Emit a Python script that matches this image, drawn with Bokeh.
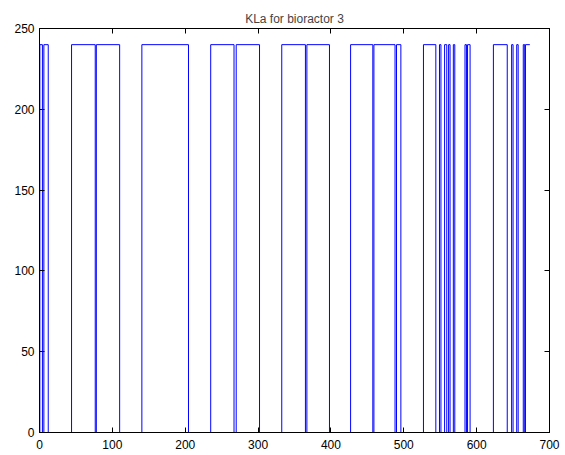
from bokeh.plotting import figure
from bokeh.models import Range1d, LinearAxis, FixedTicker
from bokeh.embed import file_html
from bokeh.resources import INLINE

# Step signal: time at which each level starts, and the level
times = [0, 0.5, 4, 6, 12, 44, 76.5, 78, 110, 140.5, 204.5, 235, 267, 270, 302,
         332.5, 365, 367, 398, 427, 457.5, 459, 488, 490, 496, 527, 544, 549, 551,
         556, 559, 561.5, 563.5, 568, 570, 584, 586, 587.5, 591, 623, 642, 648, 650,
         655, 657, 664, 666, 667, 673]
levels = [0, 240, 0, 240, 0, 240, 0, 240, 0, 240, 0, 240, 0, 240, 0,
          240, 0, 240, 0, 240, 0, 240, 0, 240, 0, 240, 0, 240, 0,
          240, 0, 240, 0, 240, 0, 240, 0, 240, 0, 240, 0, 240, 0,
          240, 0, 240, 0, 240, 240]
x_ticks = [0, 100, 200, 300, 400, 500, 600, 700]
y_ticks = [0, 50, 100, 150, 200, 250]
title_text = "KLa for bioractor 3"

FONT = "Liberation Sans"

p = figure(width=565, height=455, output_backend="svg", toolbar_location=None,
           x_range=Range1d(0, 700), y_range=Range1d(0, 250),
           title=title_text, min_border_left=39, min_border_right=16,
           min_border_top=28, min_border_bottom=23)
p.title.align = "center"
p.title.text_font = FONT
p.title.text_font_size = "12px"
p.title.text_font_style = "normal"
p.title.standoff = 6
p.title.offset = 0

p.grid.visible = False
p.outline_line_color = "black"
p.outline_line_width = 1
p.background_fill_color = "white"
p.border_fill_color = "white"

for ax, ticks in ((p.xaxis[0], x_ticks), (p.yaxis[0], y_ticks)):
    ax.ticker = FixedTicker(ticks=ticks)
    ax.major_tick_in = 5
    ax.major_tick_out = 0
    ax.minor_tick_in = 0
    ax.minor_tick_out = 0
    ax.major_label_text_font = FONT
    ax.major_label_text_font_size = "12px"
    ax.major_label_text_color = "black"
    ax.axis_line_color = "black"
    ax.major_tick_line_color = "black"
p.xaxis[0].major_label_standoff = 7
p.yaxis[0].major_label_standoff = 5

top = LinearAxis(ticker=FixedTicker(ticks=x_ticks), major_tick_in=5, major_tick_out=0,
                 minor_tick_in=0, minor_tick_out=0, major_label_text_font_size="1px",
                 major_label_text_color=None, major_label_standoff=0,
                 axis_line_color="black")
right = LinearAxis(ticker=FixedTicker(ticks=y_ticks), major_tick_in=5, major_tick_out=0,
                   minor_tick_in=0, minor_tick_out=0, major_label_text_font_size="1px",
                   major_label_text_color=None, major_label_standoff=0,
                   axis_line_color="black")
p.add_layout(top, "above")
p.add_layout(right, "right")

p.step(times, levels, mode="after", line_color="#0000ff", line_width=1)

open("out.html", "w").write(file_html(p, INLINE))
